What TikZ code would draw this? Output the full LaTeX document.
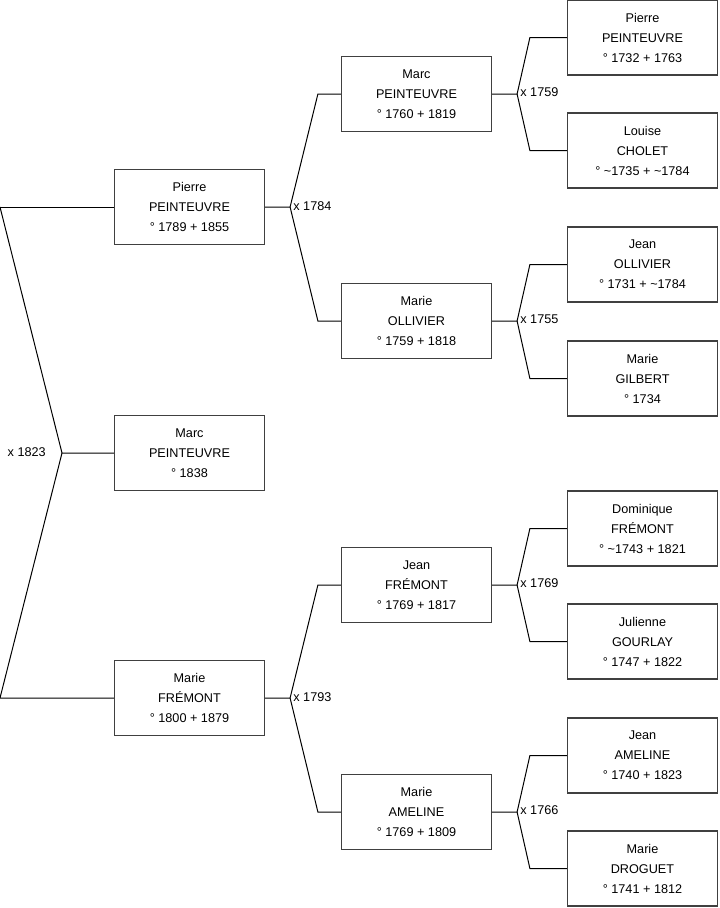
\documentclass[tikz,border=0pt]{standalone}
\usepackage{fontspec}
\setmainfont{Liberation Sans}
\usetikzlibrary{calc}
\begin{document}
\begin{tikzpicture}[x=0.75pt,y=-0.75pt,
  person/.style={draw={rgb,255:red,64;green,64;blue,64}, line width=0.9pt, rectangle,
    minimum width=150*0.75pt, minimum height=75*0.75pt, inner sep=0pt,
    align=center, font=\fontsize{9.5}{15}\selectfont},
  link/.style={draw=black, line width=0.75pt},
  marr/.style={font=\fontsize{9.5}{12}\selectfont, inner sep=1.5pt}]
\useasboundingbox (0,0) rectangle (719,908);
% generation 1
\node[person] (g1a) at (189.5,207) {Pierre\\PEINTEUVRE\\° 1789 + 1855};
\node[person] (g1b) at (189.5,453) {Marc\\PEINTEUVRE\\° 1838};
\node[person] (g1c) at (189.5,698) {Marie\\FRÉMONT\\° 1800 + 1879};
% generation 2
\node[person] (g2a) at (416.5,94) {Marc\\PEINTEUVRE\\° 1760 + 1819};
\node[person] (g2b) at (416.5,321) {Marie\\OLLIVIER\\° 1759 + 1818};
\node[person] (g2c) at (416.5,585) {Jean\\FRÉMONT\\° 1769 + 1817};
\node[person] (g2d) at (416.5,812) {Marie\\AMELINE\\° 1769 + 1809};
% generation 3
\node[person] (g3a) at (642.5,37.5) {Pierre\\PEINTEUVRE\\° 1732 + 1763};
\node[person] (g3b) at (642.5,150.5) {Louise\\CHOLET\\° \textasciitilde1735 + \textasciitilde1784};
\node[person] (g3c) at (642.5,264.5) {Jean\\OLLIVIER\\° 1731 + \textasciitilde1784};
\node[person] (g3d) at (642.5,378.5) {Marie\\GILBERT\\° 1734};
\node[person] (g3e) at (642.5,528.5) {Dominique\\FRÉMONT\\° \textasciitilde1743 + 1821};
\node[person] (g3f) at (642.5,641.5) {Julienne\\GOURLAY\\° 1747 + 1822};
\node[person] (g3g) at (642.5,755.5) {Jean\\AMELINE\\° 1740 + 1823};
\node[person] (g3h) at (642.5,868.5) {Marie\\DROGUET\\° 1741 + 1812};
% root couple
\coordinate (L1) at (0,207);
\coordinate (L3) at (0,698);
\coordinate (J0) at (62,453);
\draw[link] (L1) -- (g1a.west);
\draw[link] (L1) -- (J0) -- (g1b.west);
\draw[link] (J0) -- (L3) -- (g1c.west);
\node[marr, anchor=east] (m0) at ($(J0)+(-14,-1)$) {x 1823};
% generic couples
\foreach \c/\f/\m/\yr in {g1a/g2a/g2b/1784, g1c/g2c/g2d/1793} {
  \coordinate (J) at ($(\c.east)+(25,0)$);
  \draw[link] (\c.east) -- (J) -- ($(\f.west)+(-23,0)$) -- (\f.west);
  \draw[link] (J) -- ($(\m.west)+(-23,0)$) -- (\m.west);
  \node[marr, anchor=west] (m\c) at ($(J)+(1,-1)$) {x \yr};
}
\foreach \c/\f/\m/\yr in {g2a/g3a/g3b/1759, g2b/g3c/g3d/1755, g2c/g3e/g3f/1769, g2d/g3g/g3h/1766} {
  \coordinate (J) at ($(\c.east)+(25,0)$);
  \draw[link] (\c.east) -- (J) -- ($(\f.west)+(-37,0)$) -- (\f.west);
  \draw[link] (J) -- ($(\m.west)+(-37,0)$) -- (\m.west);
  \node[marr, anchor=west] (m\c) at ($(J)+(1,-2)$) {x \yr};
}
\end{tikzpicture}
\end{document}
